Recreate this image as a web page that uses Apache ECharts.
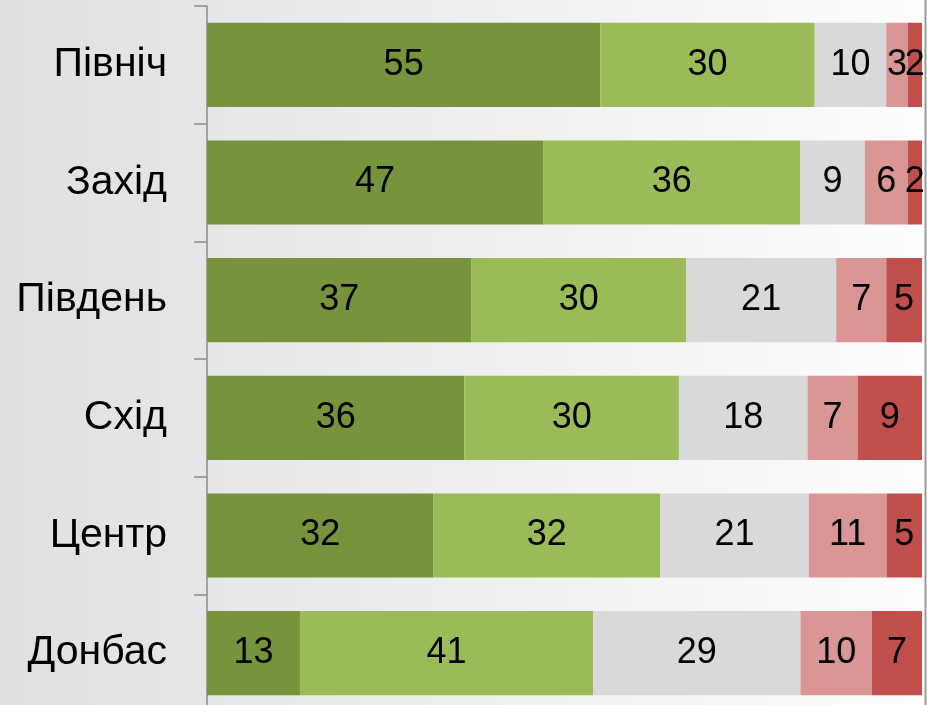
<!DOCTYPE html>
<html><head><meta charset="utf-8">
<script src="https://cdn.jsdelivr.net/npm/echarts@6/dist/echarts.min.js"></script>
<style>html,body{margin:0;padding:0;overflow:hidden;}#c{width:927px;height:712px;}</style>
</head><body><div id="c"></div>
<script>
const categories = ['Північ', 'Захід', 'Південь', 'Схід', 'Центр', 'Донбас'];
const s1 = [55, 47, 37, 36, 32, 13];
const s2 = [30, 36, 30, 30, 32, 41];
const s3 = [10, 9, 21, 18, 21, 29];
const s4 = [3, 6, 7, 7, 11, 10];
const s5 = [2, 2, 5, 9, 5, 7];
const seriesValues = [s1, s2, s3, s4, s5];
const colors = ['#77933c', '#9bbb59', '#d9d9d9', '#d99694', '#c0504d'];

const totals = categories.map((c, i) => seriesValues.reduce((a, s) => a + s[i], 0));

const chart = echarts.init(document.getElementById('c'));
chart.setOption({
  backgroundColor: {type: 'linear', x: 0, y: 0, x2: 1, y2: 0,
    colorStops: [{offset: 0, color: '#dfe0e2'}, {offset: 1, color: '#fdfdfd'}]},
  animation: false,
  grid: {left: 207, right: 5, top: 6, bottom: 0},
  xAxis: {type: 'value', min: 0, max: 100, show: false},
  yAxis: {type: 'category', data: categories, inverse: true,
    axisLine: {show: true, lineStyle: {color: '#8c8c8c', width: 1.5}},
    axisTick: {show: true, length: 13, lineStyle: {color: '#8c8c8c', width: 1.5}},
    axisLabel: {color: '#000', fontSize: 41, fontFamily: 'Liberation Sans, Arial', margin: 40}},
  series: seriesValues.map((vals, k) => ({
    type: 'bar', stack: 'all', barCategoryGap: '28.5%',
    itemStyle: {color: colors[k]},
    data: vals.map((v, i) => ({value: v / totals[i] * 100, raw: v})),
    label: {show: true, position: 'inside', color: '#000', fontSize: 36,
      fontFamily: 'Liberation Sans, Arial',
      formatter: p => String(p.data.raw)}
  })),
  graphic: [{type: 'line', shape: {x1: 925.5, y1: 0, x2: 925.5, y2: 712},
    style: {stroke: '#9a9a9a', lineWidth: 2}}]
});
</script></body></html>
